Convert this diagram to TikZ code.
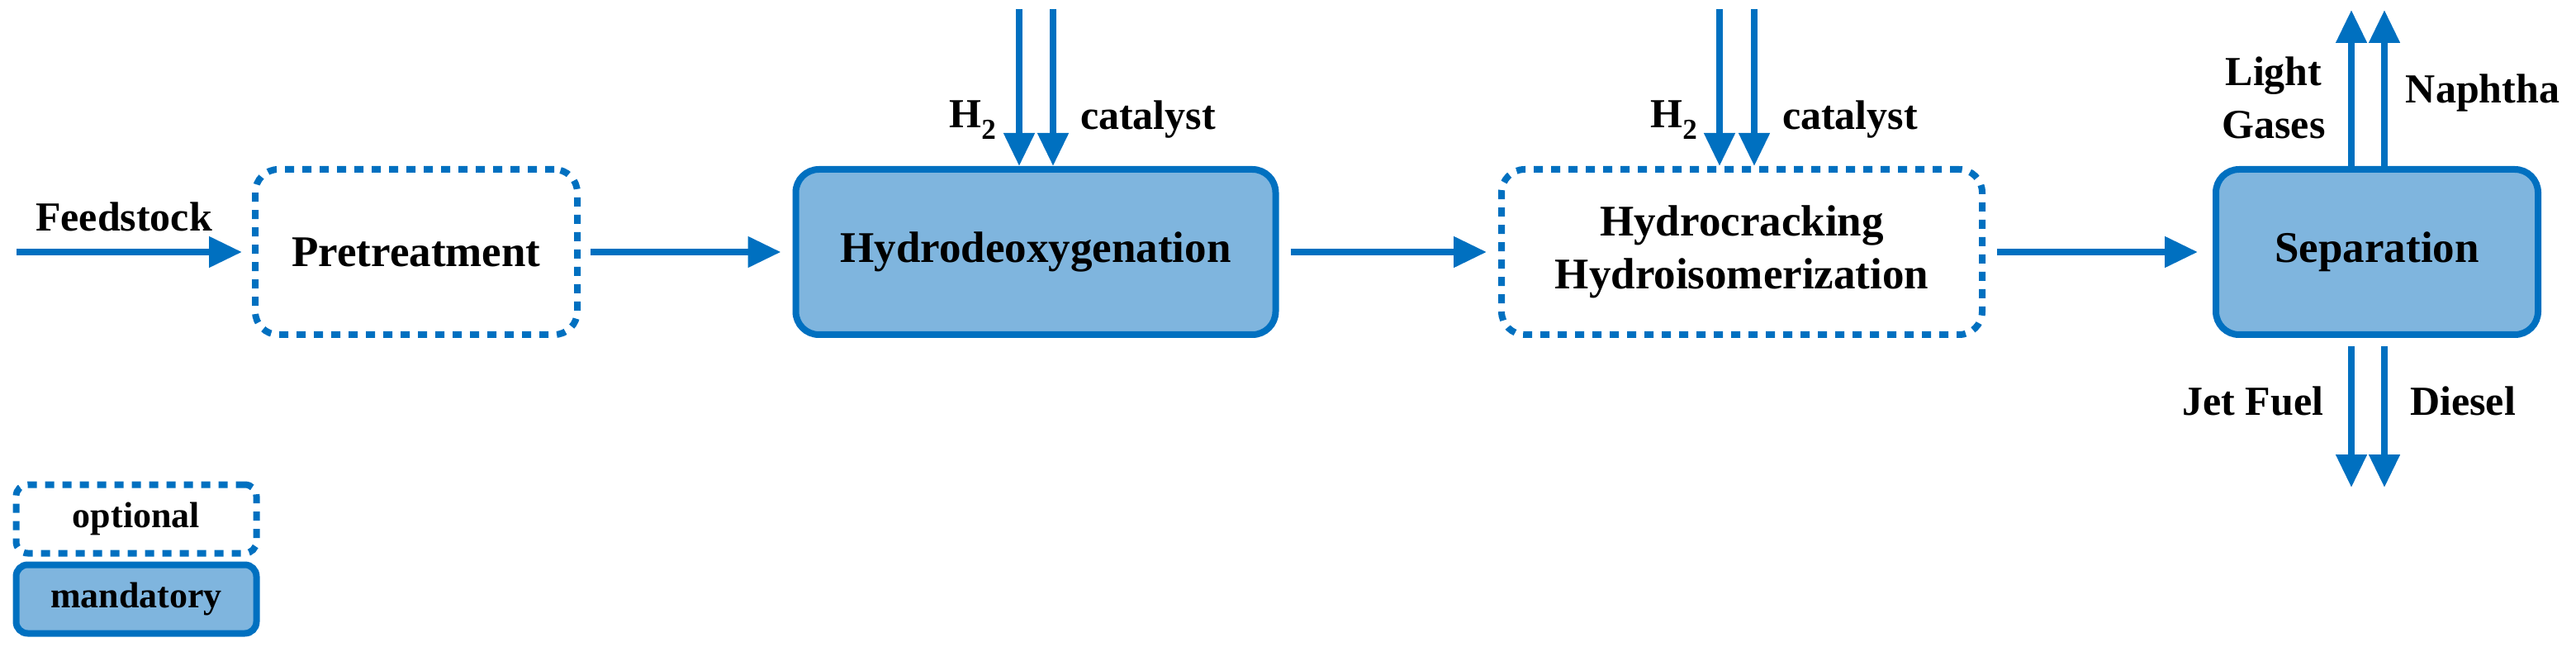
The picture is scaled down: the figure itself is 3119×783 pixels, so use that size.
\documentclass[tikz,border=0pt]{standalone}
\usepackage{fontspec}
\setmainfont{Liberation Serif}
\usetikzlibrary{arrows.meta}
\definecolor{flowblue}{HTML}{0070C0}
\definecolor{boxfill}{HTML}{7FB5DE}
\tikzset{
  stage/.style={draw=flowblue, line width=8pt, rounded corners=28pt, align=center,
    font=\fontsize{53}{64}\selectfont\bfseries},
  optional/.style={stage, dash pattern=on 11pt off 10pt},
  mandatory/.style={stage, fill=boxfill},
  flow/.style={draw=flowblue, line width=8pt, -{Triangle[length=40pt,width=36pt]}},
  lbl/.style={font=\fontsize{50}{58}\selectfont\bfseries, align=center},
}
\begin{document}
\begin{tikzpicture}[x=1pt, y=-1pt]
\useasboundingbox (0,0) rectangle (3119,783);

% process steps
\node[optional, minimum width=390pt, minimum height=200pt] (pre) at (504,305) {Pretreatment};
\node[mandatory, minimum width=581pt, minimum height=200pt] (hdo) at (1254,305) {Hydrodeoxygenation};
\node[optional, minimum width=582pt, minimum height=200pt] (hc) at (2109,305) {Hydrocracking\\Hydroisomerization};
\node[mandatory, minimum width=390pt, minimum height=200pt] (sep) at (2878,305) {Separation};

% legend
\node[optional, rounded corners=14pt, minimum width=291pt, minimum height=83pt, font=\fontsize{44}{52}\selectfont\bfseries] (opt) at (165,628) {optional};
\node[mandatory, rounded corners=14pt, minimum width=291pt, minimum height=83pt, font=\fontsize{44}{52}\selectfont\bfseries] (man) at (165,725) {mandatory};

% free ends
\coordinate (feed) at (20,305);
\coordinate (hdoH) at (1234,11);
\coordinate (hdoC) at (1275,11);
\coordinate (hcH) at (2082,11);
\coordinate (hcC) at (2124,11);
\coordinate (gas) at (2847,12);
\coordinate (nap) at (2887,12);
\coordinate (jet) at (2847,590);
\coordinate (dsl) at (2887,590);

% main line
\draw[flow, shorten >=12pt] (feed) -- (pre.west);
\draw[flow, shorten <=12pt, shorten >=14pt] (pre) -- (hdo);
\draw[flow, shorten <=14pt, shorten >=14pt] (hdo) -- (hc);
\draw[flow, shorten <=14pt, shorten >=18pt] (hc) -- (sep);

% feeds and products
\draw[flow] (hdoH) -- (hdoH |- hdo.north);
\draw[flow] (hdoC) -- (hdoC |- hdo.north);
\draw[flow] (hcH) -- (hcH |- hc.north);
\draw[flow] (hcC) -- (hcC |- hc.north);
\draw[flow] (gas |- sep.north) -- (gas);
\draw[flow] (nap |- sep.north) -- (nap);
\draw[flow] ([yshift=-10pt]jet |- sep.south) -- (jet);
\draw[flow] ([yshift=-10pt]dsl |- sep.south) -- (dsl);

% labels
\node[lbl] (lfeed) at (150,262) {Feedstock};
\node[lbl] (lh1) at (1178,145) {H\textsubscript{2}};
\node[lbl] (lc1) at (1390,145) {catalyst};
\node[lbl] (lh2) at (2027,145) {H\textsubscript{2}};
\node[lbl] (lc2) at (2240,145) {catalyst};
\node[lbl, font=\fontsize{50}{64}\selectfont\bfseries] (lgas) at (2753,118) {Light\\Gases};
\node[lbl] (lnap) at (3006,112) {Naphtha};
\node[lbl] (ljet) at (2728,485) {Jet Fuel};
\node[lbl] (ldsl) at (2982,485) {Diesel};
\end{tikzpicture}
\end{document}
